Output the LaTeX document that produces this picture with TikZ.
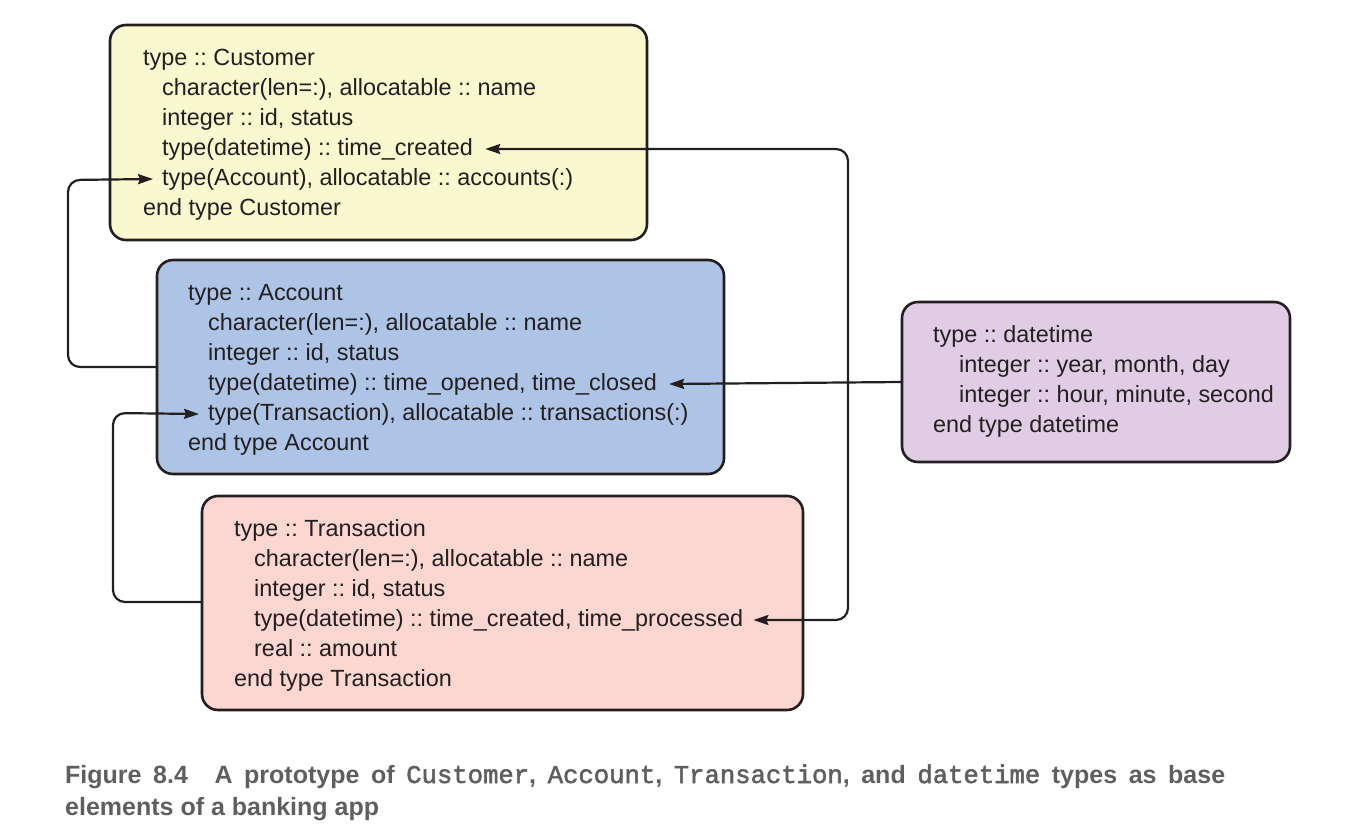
\documentclass[tikz,border=0pt]{standalone}
\usepackage{fontspec}
\setmainfont{Liberation Sans}
\newfontfamily\capfont{Liberation Sans}
\newfontfamily\capmono[UprightFeatures={FakeBold=2}]{Liberation Mono}
\usetikzlibrary{arrows.meta}
\definecolor{ink}{HTML}{231F20}
\definecolor{cyel}{HTML}{FAF8CE}
\definecolor{cblu}{HTML}{AEC4E6}
\definecolor{cpur}{HTML}{E1CCE6}
\definecolor{cpnk}{HTML}{FCD6D1}
\definecolor{capgray}{HTML}{5F5F5F}
\newcommand{\mono}[1]{{\capmono\mdseries\fontsize{25.6pt}{32pt}\selectfont #1}}
\begin{document}
\frenchspacing
\begin{tikzpicture}[x=1pt,y=-1pt,
  typebox/.style={draw=ink,line width=2.6pt,rounded corners=16pt},
  ln/.style={anchor=base west,inner sep=0pt,text=ink,font=\fontsize{23.4pt}{30pt}\selectfont},
  conn/.style={draw=ink,line width=2.2pt,rounded corners=12pt},
  tip/.style={-{Stealth[length=15pt,width=10pt,inset=2pt]}},
  captxt/.style={anchor=base west,inner sep=0pt,text=capgray,font=\capfont\bfseries\fontsize{25pt}{32pt}\selectfont}
]
\useasboundingbox (0,0) rectangle (1358,835);
% boxes
\path[typebox,fill=cyel] (110,25) rectangle (647,240);
\path[typebox,fill=cblu] (157,260) rectangle (724,474);
\path[typebox,fill=cpnk] (202,496) rectangle (803,710);
\path[typebox,fill=cpur] (902,302) rectangle (1290,462);
\coordinate (acct) at (157,367);
\coordinate (tran) at (202,602);
\coordinate (dtw) at (902,382);
% Customer
\node[ln] (c1) at (143,65) {type :: Customer};
\node[ln] (c2) at (162,95) {character(len=:), allocatable :: name};
\node[ln] (c3) at (162,125) {integer :: id, status};
\node[ln] (c4) at (162,155) {type(datetime) :: time\_created};
\node[ln] (c5) at (162,185) {type(Account), allocatable :: accounts(:)};
\node[ln] (c6) at (143,215) {end type Customer};
% Account
\node[ln] (a1) at (188,300) {type :: Account};
\node[ln] (a2) at (208,330) {character(len=:), allocatable :: name};
\node[ln] (a3) at (208,360) {integer :: id, status};
\node[ln] (a4) at (208,390) {type(datetime) :: time\_opened, time\_closed};
\node[ln] (a5) at (208,420) {type(Transaction), allocatable :: transactions(:)};
\node[ln] (a6) at (188,450) {end type Account};
% Transaction
\node[ln] (t1) at (234,536) {type :: Transaction};
\node[ln] (t2) at (254,566) {character(len=:), allocatable :: name};
\node[ln] (t3) at (254,596) {integer :: id, status};
\node[ln] (t4) at (254,626) {type(datetime) :: time\_created, time\_processed};
\node[ln] (t5) at (254,656) {real :: amount};
\node[ln] (t6) at (234,686) {end type Transaction};
% datetime
\node[ln] (d1) at (933,342) {type :: datetime};
\node[ln] (d2) at (959,372) {integer :: year, month, day};
\node[ln] (d3) at (959,402) {integer :: hour, minute, second};
\node[ln] (d4) at (933,432) {end type datetime};
% connectors
\coordinate (j) at (848,382);
\path[conn,tip] (acct) -| (68,180) -- ([xshift=-9pt,yshift=6pt]c5.base west);
\path[conn,tip] (tran) -| (113,413) -- ([xshift=-9pt,yshift=6pt]a5.base west);
\path[conn,tip] (dtw) -- ([xshift=12pt,yshift=6pt]a4.base east);
\path[conn,tip] (j) |- ([xshift=12pt,yshift=6pt]c4.base east);
\path[conn,tip] (j) |- ([xshift=10pt,yshift=6pt]t4.base east);
% caption
\node[captxt] (cap1) at (65,783)
  {\makebox[1160pt][s]{Figure 8.4\hspace{0.6em} A prototype of \mono{Customer}, \mono{Account}, \mono{Transaction}, and \mono{datetime} types as base}};
\node[captxt] (cap2) at (65,815)
  {elements of a banking app};
\end{tikzpicture}
\end{document}
